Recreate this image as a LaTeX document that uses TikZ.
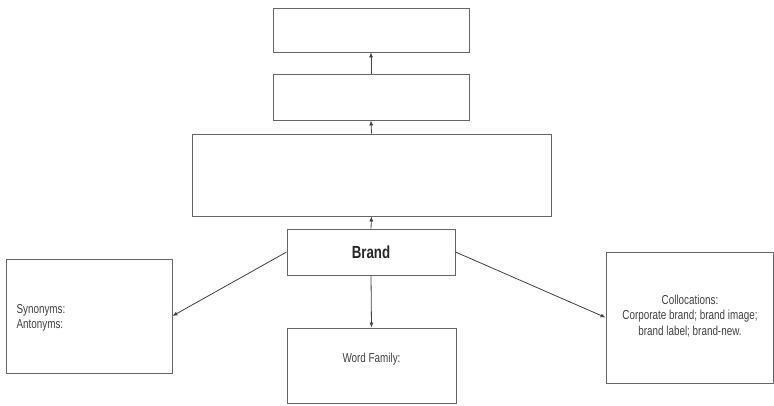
\documentclass[tikz,border=0pt]{standalone}
\usepackage{fontspec}
\setmainfont{Liberation Sans}[FakeStretch=0.76]
\usetikzlibrary{arrows.meta}
\begin{document}
\begin{tikzpicture}[x=1pt,y=-1pt,
  box/.style={draw=black!60,line width=0.9pt,rectangle,inner sep=0pt},
  link/.style={draw=black!75,line width=0.8pt,-{Latex[length=5pt,width=4pt]}},
  lbl/.style={font=\fontsize{13}{15.5}\selectfont,text=black!75}]
\useasboundingbox (0,0) rectangle (774,405);
% vertical stack
\node[box,minimum width=196pt,minimum height=44pt] (top) at (371,30) {};
\node[box,minimum width=196pt,minimum height=46pt] (mid) at (371,97) {};
\node[box,minimum width=359pt,minimum height=82pt] (big) at (371.5,175) {};
\node[box,minimum width=168pt,minimum height=46pt,font=\bfseries\fontsize{17.5}{20}\selectfont,text=black!85] (brand) at (371,252) {Brand};
% side and bottom boxes
\node[box,minimum width=166pt,minimum height=114pt] (syn) at (89,316) {};
\node[lbl,anchor=west,align=left] (syntext) at (13,318) {Synonyms:\\Antonyms:};
\node[box,minimum width=167pt,minimum height=131pt] (coll) at (689.5,317.5) {};
\node[lbl,align=center] (colltext) at (690,316) {Collocations:\\Corporate brand; brand image;\\brand label; brand-new.};
\node[box,minimum width=169pt,minimum height=75pt] (word) at (371.5,365.5) {};
\node[lbl] (wordtext) at (371.5,359) {Word Family:};
% connectors
\draw[link] (brand.north) -- (big.south);
\draw[link] (big.north) -- (mid.south);
\draw[link] (mid.north) -- (top.south);
\draw[link] (brand.south) -- (word.north);
\draw[link] (brand.west) -- (syn.east);
\draw[link] (brand.east) -- (coll.west);
\end{tikzpicture}
\end{document}
